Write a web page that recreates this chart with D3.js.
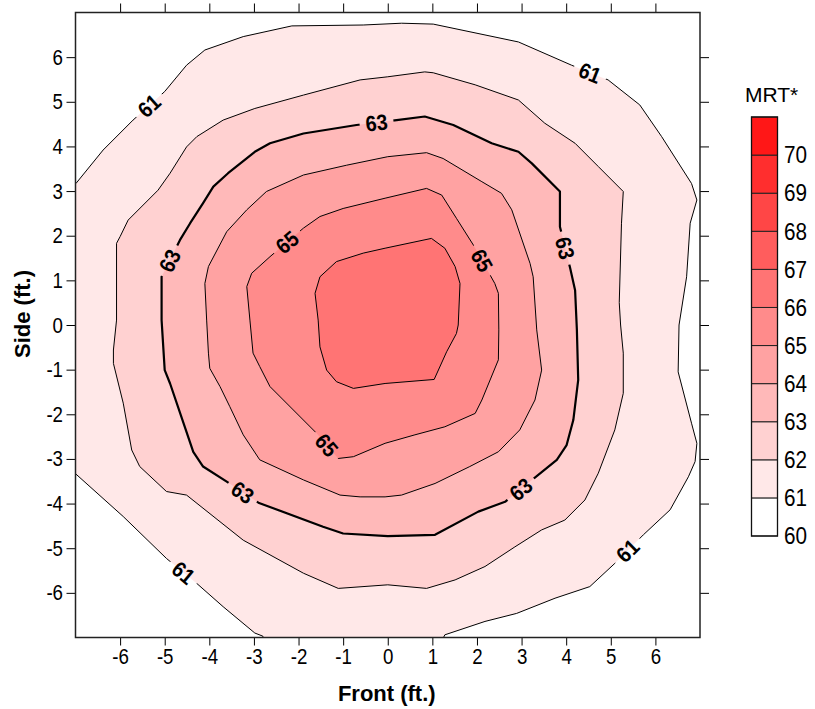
<!DOCTYPE html>
<html><head><meta charset="utf-8">
<script src="https://cdn.jsdelivr.net/npm/d3@7"></script>
<style>
html,body{margin:0;padding:0;background:#fff;}
svg{display:block;}
text{font-family:"Liberation Sans",Arial,sans-serif;fill:#000;}
</style></head><body>
<svg id="chart" width="815" height="709"></svg>
<script>
// ---------- DATA ----------
const levels = [61, 62, 63, 64, 65, 66];

const contour61 = [[-7.4,3.4],[-6.99,3.17],[-6.38,3.92],[-5.71,4.59],[-5.00,5.23],[-4.51,5.82],[-4.10,6.16],[-3.24,6.46],[-2.15,6.70],[-0.55,6.72],[0.31,6.76],[1.02,6.74],[2.93,6.34],[4.12,5.82],[4.94,5.49],[5.65,4.93],[6.14,4.22],[6.81,3.17],[6.93,2.80],[6.78,2.28],[6.70,1.08],[6.53,0.0],[6.51,-1.05],[6.81,-2.20],[6.93,-2.65],[6.89,-3.06],[6.74,-3.40],[6.33,-4.14],[5.73,-4.70],[5.09,-5.34],[4.53,-5.86],[3.75,-6.12],[2.89,-6.46],[2.18,-6.64],[1.28,-6.94],[1.05,-7.4],[-2.7,-7.4],[-2.8,-6.97],[-2.98,-6.90],[-3.69,-6.31],[-4.28,-5.79],[-4.96,-5.23],[-5.93,-4.29],[-6.99,-3.34],[-7.4,-3.6]];

const contour62 = [[-6.08,1.83],[-6.00,1.98],[-5.82,2.35],[-5.15,3.02],[-4.88,3.40],[-4.51,3.99],[-4.28,4.22],[-3.69,4.59],[-2.98,4.85],[-1.89,5.15],[-0.62,5.49],[0.0,5.56],[0.83,5.67],[1.02,5.65],[1.96,5.38],[2.93,5.04],[3.52,4.52],[4.20,4.07],[4.72,3.55],[5.28,2.99],[5.24,2.28],[5.19,0.5],[5.22,0.0],[5.28,-0.63],[5.28,-1.53],[5.09,-2.35],[4.72,-3.32],[4.42,-3.92],[3.97,-4.37],[3.45,-4.59],[2.85,-4.97],[2.18,-5.41],[1.51,-5.71],[0.87,-5.90],[0.0,-5.82],[-1.11,-5.90],[-1.89,-5.56],[-3.24,-4.82],[-4.51,-3.81],[-4.96,-3.73],[-5.56,-3.17],[-5.74,-2.80],[-5.93,-1.75],[-6.15,-0.86],[-6.15,-0.56],[-6.08,0.11]];

const contour63 = [[-5.07,1.08],[-4.66,1.90],[-4.43,2.28],[-4.14,2.73],[-3.91,3.10],[-3.58,3.40],[-2.98,3.88],[-2.64,4.07],[-1.89,4.29],[-0.70,4.48],[0.20,4.59],[0.83,4.67],[1.47,4.48],[2.33,4.07],[2.93,3.88],[3.23,3.62],[3.86,2.99],[3.86,2.20],[4.09,1.27],[4.20,0.78],[4.24,-0.11],[4.27,-1.23],[4.16,-2.13],[4.01,-2.69],[3.79,-3.02],[2.63,-3.96],[2.03,-4.18],[1.06,-4.70],[0.0,-4.73],[-1.00,-4.67],[-1.45,-4.52],[-2.90,-3.98],[-3.61,-3.51],[-4.14,-3.17],[-4.36,-2.84],[-4.55,-2.28],[-4.88,-1.31],[-5.00,-1.01],[-5.07,0.11]];

const contour64 = [[-4.10,0.93],[-4.02,1.31],[-3.61,2.09],[-3.16,2.58],[-2.72,2.99],[-1.89,3.36],[-0.92,3.58],[0.0,3.77],[0.87,3.86],[1.24,3.73],[2.11,3.21],[2.55,2.95],[2.78,2.58],[3.19,1.38],[3.26,1.08],[3.34,-0.11],[3.45,-1.01],[3.30,-1.68],[2.96,-2.35],[2.48,-2.84],[1.84,-3.17],[1.06,-3.55],[0.31,-3.81],[-0.06,-3.85],[-0.62,-3.85],[-1.07,-3.81],[-1.89,-3.47],[-2.87,-3.02],[-3.24,-2.46],[-3.54,-1.83],[-3.76,-1.38],[-3.99,-0.97],[-4.02,-0.63],[-4.06,0.11]];

const contour65 = [[-3.16,0.86],[-3.05,1.16],[-2.64,1.53],[-1.89,2.17],[-1.52,2.43],[-1.00,2.61],[-0.06,2.84],[0.87,3.06],[1.21,2.91],[1.54,2.39],[1.92,1.79],[2.40,0.93],[2.48,0.71],[2.49,-0.11],[2.48,-0.78],[2.11,-1.68],[1.96,-1.98],[1.28,-2.28],[0.61,-2.46],[-0.06,-2.65],[-0.77,-2.95],[-1.11,-2.99],[-1.59,-2.43],[-2.64,-1.38],[-2.87,-0.93],[-3.02,-0.63],[-3.09,0.11]];

const contour66 = [[-1.63,0.71],[-1.52,1.08],[-1.15,1.42],[-0.55,1.61],[-0.06,1.72],[0.98,1.94],[1.28,1.72],[1.51,1.31],[1.62,0.93],[1.58,0.0],[1.54,-0.19],[1.32,-0.60],[1.04,-1.22],[-0.06,-1.31],[-0.77,-1.42],[-1.15,-1.27],[-1.37,-1.01],[-1.52,-0.49],[-1.56,0.11]];

const contourLabels = [
  {level:61, x:-5.33, y:4.89}, {level:61, x:4.53, y:5.64},
  {level:61, x:5.36, y:-5.04}, {level:61, x:-4.59, y:-5.56},
  {level:63, x:-0.25, y:4.52}, {level:63, x:-4.85, y:1.42},
  {level:63, x:3.97, y:1.72}, {level:63, x:3.00, y:-3.70},
  {level:63, x:-3.24, y:-3.73},
  {level:65, x:-2.27, y:1.87}, {level:65, x:2.14, y:1.46},
  {level:65, x:-1.37, y:-2.69}
];

const axisTicks = [-6,-5,-4,-3,-2,-1,0,1,2,3,4,5,6];
const legendLevels = [60,61,62,63,64,65,66,67,68,69,70];
const legendTop = 71;
const xTitle = "Front (ft.)";
const yTitle = "Side (ft.)";
const legendTitle = "MRT*";

// ---------- LAYOUT ----------
const contours = {61:contour61, 62:contour62, 63:contour63, 64:contour64, 65:contour65, 66:contour66};
const ml = 75.5, mt = 12.5, pw = 624.5, ph = 625;
const svg = d3.select("#chart");
const x = d3.scaleLinear().domain([-7,7]).range([0,pw]);
const y = d3.scaleLinear().domain([-7,7]).range([ph,0]);
const color = d3.scaleLinear().domain([60,71]).range(["#ffffff","#ff0000"]).interpolate(d3.interpolateRgb);
const line = d3.line().x(d=>x(d[0])).y(d=>y(d[1]));
const fmt = d => String(d);   // plain hyphen-minus as in the reference

const defs = svg.append("defs");
defs.append("clipPath").attr("id","plotclip").append("rect")
  .attr("x",0).attr("y",0).attr("width",pw).attr("height",ph);

const g = svg.append("g").attr("transform",`translate(${ml},${mt})`);

// fills
const fillG = g.append("g").attr("clip-path","url(#plotclip)");
fillG.append("rect").attr("width",pw).attr("height",ph).attr("fill",color(60));
levels.forEach(lv=>{
  fillG.append("path").attr("d",line(contours[lv])+"Z").attr("fill",color(lv)).attr("stroke","none");
});

// label geometry: snap to nearest segment & align with it
function placeLabel(lab){
  const pts = contours[lab.level];
  const P = [x(lab.x), y(lab.y)];
  let best=null;
  for(let i=0;i<pts.length;i++){
    const a=[x(pts[i][0]),y(pts[i][1])], b=[x(pts[(i+1)%pts.length][0]),y(pts[(i+1)%pts.length][1])];
    const dx=b[0]-a[0], dy=b[1]-a[1], L2=dx*dx+dy*dy;
    let t=L2?((P[0]-a[0])*dx+(P[1]-a[1])*dy)/L2:0; t=Math.max(0,Math.min(1,t));
    const q=[a[0]+t*dx,a[1]+t*dy], d=Math.hypot(q[0]-P[0],q[1]-P[1]);
    if(!best||d<best.d){ let ang=Math.atan2(dy,dx)*180/Math.PI; if(ang>90)ang-=180; if(ang<-90)ang+=180; best={d,q,ang}; }
  }
  return {px:best.q[0], py:best.q[1], ang:best.ang, level:lab.level};
}
const placed = contourLabels.map(placeLabel);

const mask = defs.append("mask").attr("id","labelmask").attr("maskUnits","userSpaceOnUse")
  .attr("x",-60).attr("y",-60).attr("width",pw+120).attr("height",ph+120);
mask.append("rect").attr("x",-60).attr("y",-60).attr("width",pw+120).attr("height",ph+120).attr("fill","#fff");
placed.forEach(p=>{
  mask.append("rect").attr("x",-17).attr("y",-10).attr("width",34).attr("height",20)
    .attr("transform",`translate(${p.px},${p.py}) rotate(${p.ang})`).attr("fill","#000");
});

// lines
const lineG = g.append("g").attr("clip-path","url(#plotclip)").append("g").attr("mask","url(#labelmask)");
levels.forEach(lv=>{
  lineG.append("path").attr("d",line(contours[lv])+"Z").attr("fill","none")
    .attr("stroke","#000").attr("stroke-width", lv===63?2.2:1).attr("stroke-linejoin","round");
});

// contour labels
g.append("g").selectAll("text").data(placed).join("text")
  .attr("transform",p=>`translate(${p.px},${p.py}) rotate(${p.ang}) scale(0.9,1)`)
  .attr("text-anchor","middle").attr("dy","0.36em")
  .style("font-size","22px").style("font-weight","bold")
  .text(p=>p.level);

// axes
function styleAxis(sel){
  sel.select(".domain").remove();
  sel.selectAll(".tick line").attr("stroke","#000").attr("stroke-width",1);
  sel.selectAll(".tick text").style("font-size","22px").attr("fill","#000")
    .style("font-family",'"Liberation Sans",Arial,sans-serif');
}
const xAx = g.append("g").attr("transform",`translate(0,${ph})`)
  .call(d3.axisBottom(x).tickValues(axisTicks).tickFormat(fmt).tickSize(8).tickPadding(3).tickSizeOuter(0));
styleAxis(xAx);
xAx.selectAll(".tick text").attr("transform","scale(0.85,1)");

const yAx = g.append("g")
  .call(d3.axisLeft(y).tickValues(axisTicks).tickFormat(fmt).tickSize(9).tickPadding(3).tickSizeOuter(0));
styleAxis(yAx);
yAx.selectAll(".tick text").attr("x",-12.5/0.85).attr("transform","scale(0.85,1)");

const tAx = g.append("g").call(d3.axisTop(x).tickValues(axisTicks).tickSize(9).tickFormat("").tickSizeOuter(0));
styleAxis(tAx);
const rAx = g.append("g").attr("transform",`translate(${pw},0)`)
  .call(d3.axisRight(y).tickValues(axisTicks).tickSize(9).tickFormat("").tickSizeOuter(0));
styleAxis(rAx);

// frame
g.append("rect").attr("width",pw).attr("height",ph).attr("fill","none").attr("stroke","#222").attr("stroke-width",1.5);

// titles
svg.append("text").attr("x",ml+pw/2-1).attr("y",701).attr("text-anchor","middle")
  .style("font-size","22px").style("font-weight","bold").text(xTitle);
svg.append("text").attr("transform","translate(30,314) rotate(-90)").attr("text-anchor","middle")
  .style("font-size","22px").style("font-weight","bold").text(yTitle);

// legend
const cb = d3.scaleLinear().domain([60,legendTop]).range([536,117]);
const lg = svg.append("g");
lg.selectAll("rect").data(legendLevels).join("rect")
  .attr("x",751.5).attr("width",26).attr("y",d=>cb(d+1)).attr("height",d=>cb(d)-cb(d+1))
  .attr("fill",d=>color(d)).attr("stroke","#222").attr("stroke-width",1);
lg.append("rect").attr("x",751.5).attr("y",cb(legendTop)).attr("width",26).attr("height",cb(60)-cb(legendTop))
  .attr("fill","none").attr("stroke","#111").attr("stroke-width",1.3);
lg.selectAll("text.lab").data(legendLevels).join("text").attr("class","lab")
  .attr("transform",d=>`translate(784,${cb(d)}) scale(0.9,1)`).attr("dy","0.36em")
  .style("font-size","23px").text(d=>d);
svg.append("text").attr("x",745).attr("y",102).style("font-size","21px").text(legendTitle);
</script></body></html>
